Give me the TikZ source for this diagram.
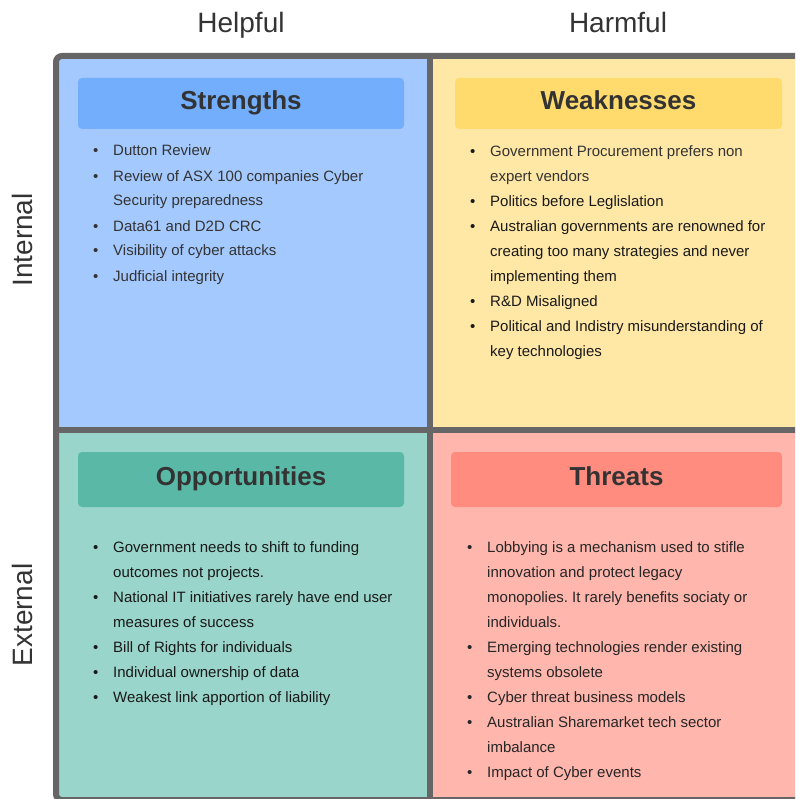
\documentclass[tikz,border=0pt]{standalone}
\usepackage{fontspec}
\setmainfont{Liberation Sans}
\usetikzlibrary{positioning}
\frenchspacing

\definecolor{gridgray}{HTML}{666666}
\definecolor{inktext}{HTML}{333333}
\definecolor{strbg}{HTML}{A4C9FE}
\definecolor{strhead}{HTML}{73AEFD}
\definecolor{weakbg}{HTML}{FFE8A6}
\definecolor{weakhead}{HTML}{FFDA6D}
\definecolor{oppbg}{HTML}{99D5CA}
\definecolor{opphead}{HTML}{5AB9A6}
\definecolor{thrbg}{HTML}{FFB6AD}
\definecolor{thrhead}{HTML}{FF8C7E}

% one bullet line and one follow-on line of a list
\newcommand{\bitem}[1]{\makebox[20pt][l]{\textbullet}#1}
\newcommand{\bcont}[1]{\hspace*{20pt}#1}

\begin{document}
\begin{tikzpicture}[x=1pt,y=-1pt,
    grid/.style={draw=gridgray,line width=6pt},
    head/.style={rounded corners=4pt,inner sep=0pt,minimum width=326pt,
      text height=19pt,text depth=6pt,
      text=inktext,font=\fontsize{26}{30}\selectfont\bfseries},
    axis/.style={text=inktext,inner sep=0pt,font=\fontsize{28}{32}\selectfont},
    % lists sit on the baseline of their last line
    list/.style={align=left,inner sep=0pt,anchor=base west,
      font=\fontsize{15}{25}\selectfont}]
  \useasboundingbox (0,0) rectangle (795,799);
  \clip (0,0) rectangle (795,799);

  % quadrants
  \fill[strbg] (56,56) rectangle (430,430);
  \fill[weakbg] (430,56) rectangle (810,430);
  \fill[oppbg] (56,430) rectangle (430,810);
  \fill[thrbg] (430,430) rectangle (810,810);
  \draw[grid,rounded corners=6pt] (56,56) rectangle (804,800);
  \draw[grid] (430,56) -- (430,800);
  \draw[grid] (56,430) -- (804,430);

  % axis labels
  \node[axis,anchor=base] (helpful) at (241,33) {Helpful};
  \node[axis,anchor=base] (harmful) at (618,33) {Harmful};
  \node[axis,rotate=90] (internal) at (22,240) {Internal};
  \node[axis,rotate=90] (external) at (22,615) {External};

  % headers
  \node[head,fill=strhead,minimum height=51pt] (strengths) at (241,103.5) {Strengths};
  \node[head,fill=weakhead,minimum width=327pt,minimum height=51pt] (weaknesses) at (618.5,103.5) {Weaknesses};
  \node[head,fill=opphead,minimum height=55pt,text depth=8pt] (opportunities) at (241,479.5) {Opportunities};
  \node[head,fill=thrhead,minimum width=331pt,minimum height=55pt,text depth=8pt] (threats) at (616.5,479.5) {Threats};

  % lists
  \node[list,text=inktext] (strlist) at (93,281) {%
    \bitem{Dutton Review}\\
    \bitem{Review of ASX 100 companies Cyber}\\
    \bcont{Security preparedness}\\
    \bitem{Data61 and D2D CRC}\\
    \bitem{Visibility of cyber attacks}\\
    \bitem{Judficial integrity}};
  \node[list,text=black!90] (weaklist) at (470,356) {%
    \bitem{\textcolor{inktext}{Government Procurement prefers non}}\\
    \bcont{\textcolor{inktext}{expert vendors}}\\
    \bitem{Politics before Leglislation}\\
    \bitem{Australian governments are renowned for}\\
    \bcont{creating too many strategies and never}\\
    \bcont{implementing them}\\
    \bitem{R\&D Misaligned}\\
    \bitem{Political and Indistry misunderstanding of}\\
    \bcont{key technologies}};
  \node[list,text=black!90] (opplist) at (93,702) {%
    \bitem{Government needs to shift to funding}\\
    \bcont{outcomes not projects.}\\
    \bitem{National IT initiatives rarely have end user}\\
    \bcont{measures of success}\\
    \bitem{Bill of Rights for individuals}\\
    \bitem{Individual ownership of data}\\
    \bitem{Weakest link apportion of liability}};
  \node[list,text=black!85] (thrlist) at (467,777) {%
    \bitem{Lobbying is a mechanism used to stifle}\\
    \bcont{innovation and protect legacy}\\
    \bcont{monopolies. It rarely benefits sociaty or}\\
    \bcont{individuals.}\\
    \bitem{Emerging technologies render existing}\\
    \bcont{systems obsolete}\\
    \bitem{Cyber threat business models}\\
    \bitem{Australian Sharemarket tech sector}\\
    \bcont{imbalance}\\
    \bitem{Impact of Cyber events}};
\end{tikzpicture}
\end{document}
